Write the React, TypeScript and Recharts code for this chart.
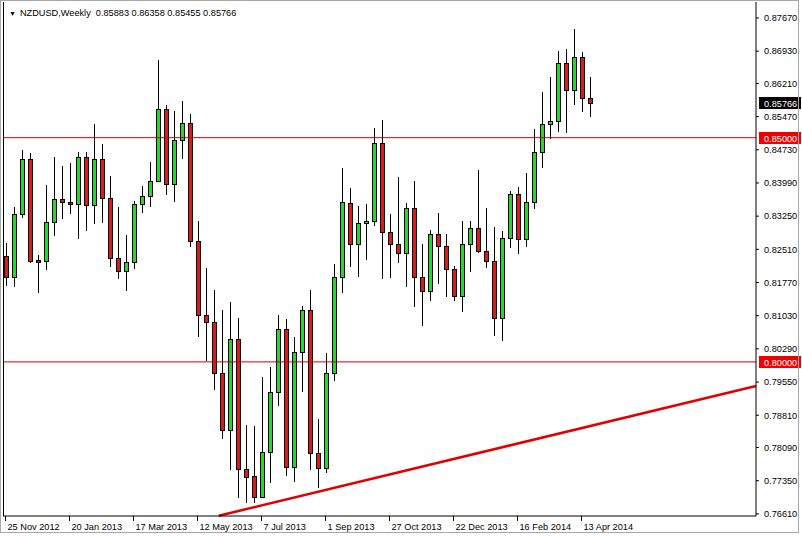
import React from 'react';
import { ComposedChart, Bar, XAxis, YAxis, ReferenceLine } from 'recharts';

// Weekly NZDUSD candles, first candle = week of 25 Nov 2012
const opens = [
  0.82362, 0.81894, 0.83298, 0.84525, 0.82273, 0.82250, 0.83120, 0.83633, 0.83566, 0.83521,
  0.84570, 0.83499, 0.84525, 0.83655, 0.82317, 0.82027, 0.82228, 0.83521, 0.83700, 0.84034,
  0.85640, 0.83967, 0.84949, 0.85328, 0.82696, 0.81046, 0.80890, 0.79752, 0.78481, 0.80511,
  0.77611, 0.77455, 0.76987, 0.77991, 0.79329, 0.80734, 0.77656, 0.80221, 0.81157, 0.77968,
  0.77634, 0.79752, 0.81894, 0.83544, 0.82629, 0.83098, 0.83142, 0.84882, 0.82897, 0.82629,
  0.82429, 0.83432, 0.81894, 0.81581, 0.82852, 0.82585, 0.82072, 0.81470, 0.82629, 0.82986,
  0.82473, 0.82250, 0.80979, 0.82763, 0.83744, 0.82741, 0.83566, 0.84681, 0.85306, 0.85373,
  0.86666, 0.86064, 0.86800, 0.85883,
];
const highs = [
  0.82652, 0.83455, 0.84726, 0.84659, 0.82384, 0.83945, 0.84570, 0.84369, 0.84436, 0.84681,
  0.84681, 0.85306, 0.84860, 0.84146, 0.83455, 0.82830, 0.83588, 0.83923, 0.84458, 0.86733,
  0.85729, 0.85596, 0.85819, 0.85529, 0.83142, 0.82094, 0.81603, 0.81157, 0.81336, 0.80979,
  0.78593, 0.78570, 0.79663, 0.79886, 0.81046, 0.80957, 0.80555, 0.81247, 0.81603, 0.78727,
  0.80198, 0.82183, 0.84324, 0.83878, 0.83477, 0.83521, 0.85216, 0.85395, 0.83298, 0.84124,
  0.83544, 0.84034, 0.82629, 0.82942, 0.83321, 0.82852, 0.82139, 0.83142, 0.83142, 0.84280,
  0.83432, 0.83008, 0.82919, 0.83811, 0.83901, 0.84213, 0.85194, 0.86019, 0.86354, 0.86934,
  0.86978, 0.87424, 0.86911, 0.86358,
];
const lows = [
  0.81693, 0.81670, 0.83209, 0.82206, 0.81537, 0.82050, 0.82808, 0.83187, 0.83298, 0.82741,
  0.82919, 0.83075, 0.83098, 0.82116, 0.81849, 0.81581, 0.82072, 0.83321, 0.83455, 0.84010,
  0.83722, 0.83566, 0.84525, 0.82562, 0.80555, 0.80020, 0.79373, 0.78280, 0.77589, 0.76965,
  0.76853, 0.76853, 0.76965, 0.77299, 0.79016, 0.77455, 0.77321, 0.79329, 0.77589, 0.77188,
  0.77522, 0.79574, 0.81537, 0.82116, 0.81894, 0.82273, 0.83031, 0.81849, 0.81871, 0.82206,
  0.81670, 0.81224, 0.80801, 0.81358, 0.81737, 0.81447, 0.81358, 0.81113, 0.82005, 0.82429,
  0.82094, 0.80578, 0.80466, 0.82540, 0.82406, 0.82562, 0.83410, 0.84324, 0.84971, 0.85127,
  0.85104, 0.85729, 0.85573, 0.85455,
];
const closes = [
  0.81894, 0.83298, 0.84525, 0.82250, 0.82228, 0.83120, 0.83633, 0.83566, 0.83521, 0.84570,
  0.83499, 0.84525, 0.83655, 0.82317, 0.82027, 0.82228, 0.83521, 0.83700, 0.84034, 0.85640,
  0.83967, 0.84949, 0.85328, 0.82696, 0.81046, 0.80890, 0.79752, 0.78481, 0.80511, 0.77611,
  0.77433, 0.76987, 0.77991, 0.79329, 0.80734, 0.77656, 0.80221, 0.81157, 0.77968, 0.77634,
  0.79752, 0.81894, 0.83566, 0.82629, 0.83098, 0.83142, 0.84882, 0.82897, 0.82629, 0.82429,
  0.83432, 0.81894, 0.81581, 0.82852, 0.82585, 0.82072, 0.81470, 0.82629, 0.82986, 0.82473,
  0.82250, 0.80979, 0.82763, 0.83744, 0.82741, 0.83566, 0.84681, 0.85306, 0.85373, 0.86666,
  0.86064, 0.86800, 0.85883, 0.85766,
];

const dateLabels = ['25 Nov 2012', '20 Jan 2013', '17 Mar 2013', '12 May 2013', '7 Jul 2013', '1 Sep 2013', '27 Oct 2013', '22 Dec 2013', '16 Feb 2014', '13 Apr 2014'];
const dateLabelWeeks = [0, 8, 16, 24, 32, 40, 48, 56, 64, 72];
const priceTicks = [0.8767, 0.8693, 0.8621, 0.8547, 0.8473, 0.8399, 0.8325, 0.8251, 0.8177, 0.8103, 0.8029, 0.7955, 0.7881, 0.7809, 0.7735, 0.7661];
const levelLines = [0.85, 0.8];
const lastPrice = 0.85766;
const trendStart = { week: 26.6, price: 0.7657 };
const trendEnd = { week: 93.75, price: 0.79462 };
const titleText = 'NZDUSD,Weekly  0.85883 0.86358 0.85455 0.85766';

const data = opens.map((o, i) => ({ i, open: o, high: highs[i], low: lows[i], close: closes[i] }));

const GREEN = '#22dc22';
const RED = '#dc1a1a';
const FONT = '"Liberation Sans", Arial, sans-serif';
const FS = 9.2;

const Candle = (props: any) => {
  const { x, y, width, height, payload } = props;
  if (x == null || y == null || !payload) return null;
  const top = Math.min(y, y + height);
  const bot = Math.max(y, y + height);
  const span = payload.high - payload.low;
  const py = (p: number) => (span > 0 ? top + ((payload.high - p) / span) * (bot - top) : top);
  const cx = Math.round(x + width / 2);
  const up = payload.close >= payload.open;
  const bTop = Math.round(py(Math.max(payload.open, payload.close)));
  const bBot = Math.round(py(Math.min(payload.open, payload.close)));
  const h = Math.max(1, bBot - bTop);
  return (
    <g>
      <line x1={cx + 0.5} x2={cx + 0.5} y1={Math.round(top)} y2={Math.round(bot)} stroke="#000" strokeWidth={1} />
      <rect x={cx - 1.5} y={bTop + 0.5} width={4} height={h} fill={up ? GREEN : RED} stroke="#000" strokeWidth={1} />
    </g>
  );
};

const DateTick = (props: any) => {
  const { x, y, payload } = props;
  const idx = dateLabelWeeks.indexOf(payload.value);
  const label = idx >= 0 ? dateLabels[idx] : '';
  const px = Math.round(x) - 0.5;
  return (
    <g>
      <line x1={px} x2={px} y1={y} y2={y + 5} stroke="#000" />
      <text x={px + 2} y={y + 14} fontSize={FS} fontFamily={FONT} fill="#000" textAnchor="start">{label}</text>
    </g>
  );
};

const priceTag = (value: number, bg: string) => (props: any) => {
  const vb = props.viewBox || {};
  const x = (vb.x || 0) + (vb.width || 0);
  const y = Math.round(vb.y || 0);
  return (
    <g>
      <rect x={x + 3} y={y - 6} width={42} height={12} fill={bg} />
      <text x={x + 8} y={y + 3.5} fontSize={FS} fontFamily={FONT} fill="#fff" textAnchor="start">{value.toFixed(5)}</text>
    </g>
  );
};

export default function App() {
  return (
    <div style={{ position: 'absolute', left: 0, top: 0, width: 802, height: 537, background: '#fff' }}>
      <ComposedChart width={802} height={537} data={data} margin={{ top: 2, right: 0, bottom: 0, left: 3 }}>
        <XAxis
          dataKey="i"
          type="number"
          domain={[-0.375, 93.75]}
          allowDataOverflow
          ticks={dateLabelWeeks}
          interval={0}
          height={21}
          tickLine={false}
          tickSize={0}
          tickMargin={0}
          axisLine={{ stroke: '#000' }}
          tick={<DateTick />}
        />
        <YAxis
          orientation="right"
          type="number"
          domain={[0.76563, 0.88026]}
          allowDataOverflow
          ticks={priceTicks}
          interval={0}
          width={46}
          tickSize={3}
          tickMargin={5}
          axisLine={{ stroke: '#000' }}
          tickLine={{ stroke: '#000' }}
          tick={{ fontSize: FS, fontFamily: FONT, fill: '#000' }}
          tickFormatter={(v: number) => v.toFixed(5)}
        />
        {levelLines.map((lv) => (
          <ReferenceLine key={lv} y={lv} stroke="#d00000" strokeWidth={1} label={priceTag(lv, '#f00000')} />
        ))}
        <ReferenceLine y={lastPrice} stroke="none" label={priceTag(lastPrice, '#000')} />
        <ReferenceLine
          segment={[{ x: trendStart.week, y: trendStart.price }, { x: trendEnd.week, y: trendEnd.price }]}
          stroke="#e00000"
          strokeWidth={2.5}
        />
        <Bar dataKey={(d: any) => [d.low, d.high]} barSize={7} shape={<Candle />} isAnimationActive={false} />
      </ComposedChart>
      <div style={{ position: 'absolute', left: 3, top: 2, width: 753, height: 514, borderLeft: '1px solid #000', boxSizing: 'border-box', pointerEvents: 'none' }} />
      <div style={{ position: 'absolute', left: 0, top: 0, width: 799, height: 533, border: '1px solid #a8a8a8', boxSizing: 'border-box', pointerEvents: 'none' }} />
      <div style={{ position: 'absolute', left: 9, top: 7, fontFamily: FONT, fontSize: FS, lineHeight: '12px', whiteSpace: 'pre', color: '#000' }}>
        <span style={{ fontSize: 7, marginRight: 4 }}>▼</span>{titleText}
      </div>
    </div>
  );
}
